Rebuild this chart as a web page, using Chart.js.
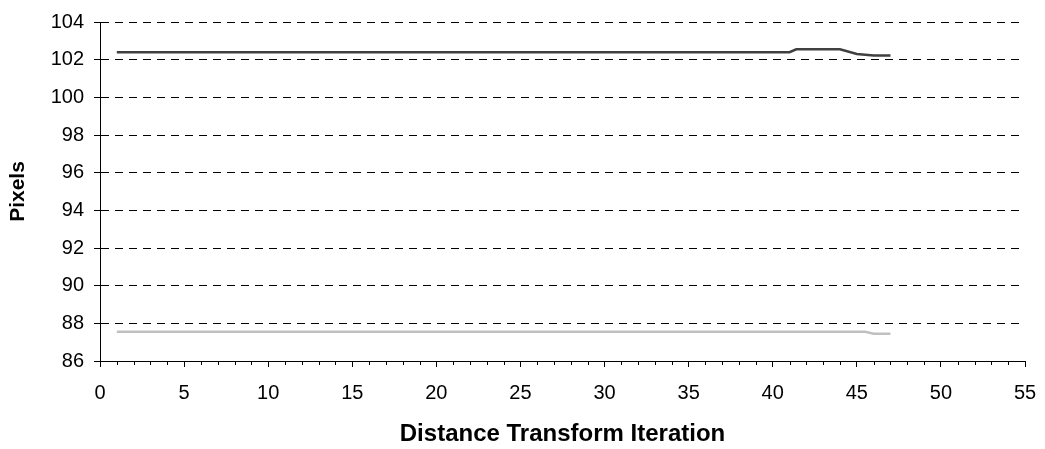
<!DOCTYPE html>
<html>
<head>
<meta charset="utf-8">
<title>Distance transform</title>
<script src="https://cdn.jsdelivr.net/npm/chart.js@4"></script>
<style>
  html, body { margin:0; padding:0; background:#fff; }
  #wrap { width:1045px; height:449px; position:relative; }
</style>
</head>
<body>
<div id="wrap"><canvas id="chart"></canvas></div>
<script>
// values
const darkIter = [1, 41, 41.4, 44, 45, 46, 47];
const darkPixels = [102.4, 102.4, 102.55, 102.55, 102.3, 102.22, 102.22];
const lightIter = [1, 45.5, 46, 47];
const lightPixels = [87.55, 87.55, 87.45, 87.45];

const xMin = 0, xMax = 55, xMajor = 5;
const yMin = 86, yMax = 104, yStep = 2;

const toPoints = (xs, ys) => xs.map((x, i) => ({ x: x, y: ys[i] }));

// small unlabelled ticks every iteration on the x axis
const minorTicks = {
  id: 'minorTicks',
  afterDraw(chart) {
    const sx = chart.scales.x, ctx = chart.ctx;
    const y0 = chart.chartArea.bottom;
    ctx.save();
    ctx.strokeStyle = '#000'; ctx.lineWidth = 1;
    for (let v = xMin; v <= xMax; v++) {
      if (v % xMajor === 0) continue;
      const px = Math.round(sx.getPixelForValue(v)) + 0.5;
      ctx.beginPath(); ctx.moveTo(px, y0); ctx.lineTo(px, y0 + 4); ctx.stroke();
    }
    ctx.restore();
  }
};

new Chart(document.getElementById('chart'), {
  type: 'line',
  data: {
    datasets: [
      { data: toPoints(darkIter, darkPixels), borderColor: '#404040', borderWidth: 2.5, pointRadius: 0, tension: 0 },
      { data: toPoints(lightIter, lightPixels), borderColor: '#c0c0c0', borderWidth: 2.5, pointRadius: 0, tension: 0 }
    ]
  },
  options: {
    responsive: true, maintainAspectRatio: false, animation: false,
    layout: { padding: { top: 13, right: 20, left: 0, bottom: 0 } },
    plugins: { legend: { display: false }, tooltip: { enabled: false } },
    scales: {
      x: {
        type: 'linear', min: xMin, max: xMax,
        afterFit: s => { s.height = 88; s.paddingRight = 0; s.paddingLeft = 0; },
        ticks: { stepSize: xMajor, color: '#000', font: { family: 'Liberation Sans, Arial', size: 20 }, padding: 14, maxRotation: 0 },
        grid: { drawOnChartArea: false, tickLength: 6, color: '#000' },
        border: { display: true, color: '#000', width: 1 },
        title: { display: true, text: 'Distance Transform Iteration', color: '#000',
                 font: { family: 'Liberation Sans, Arial', size: 24, weight: 'bold' }, padding: { top: 10, bottom: 0 } }
      },
      y: {
        min: yMin, max: yMax,
        afterFit: s => { s.width = 100; },
        ticks: { stepSize: yStep, color: '#000', font: { family: 'Liberation Sans, Arial', size: 20 }, padding: 10 },
        grid: { color: ctx => ctx.tick && ctx.tick.value === yMin ? 'rgba(0,0,0,0)' : '#000', tickColor: '#000', tickLength: 6, lineWidth: 1 },
        border: { display: true, color: '#000', width: 1, dash: [8, 6] },
        title: { display: true, text: 'Pixels', color: '#000',
                 font: { family: 'Liberation Sans, Arial', size: 21, weight: 'bold' }, padding: { top: 6, bottom: 4 } }
      }
    }
  },
  plugins: [minorTicks]
});
</script>
</body>
</html>
